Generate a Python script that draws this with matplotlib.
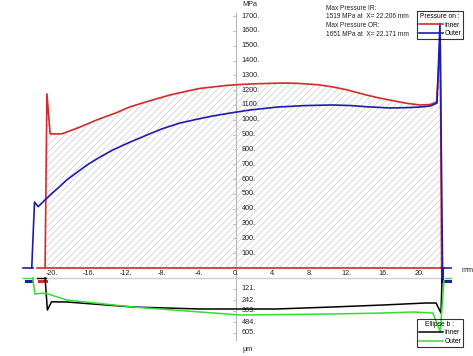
import matplotlib

matplotlib.use("Agg")

import matplotlib.pyplot as plt

# Contact pressure along the roller (mm -> MPa)
inner_mm = [-20.75, -20.75, -20.55, -20.2, -18.95, -17.0, -15.1, -13.0, -11.5, -9.0,
            -7.2, -5.0, -3.9, -1.0, 0.4, 2.0, 4.5, 5.5, 7.0, 9.0, 10.5, 12.0, 14.2,
            15.5, 17.8, 18.5, 20.0, 21.1, 21.8, 22.206, 22.35]
inner_mpa = [0, 0, 1175, 905, 905, 950, 1000, 1048, 1088, 1135,
             1167, 1198, 1212, 1232, 1238, 1243, 1247, 1248, 1245, 1236, 1222, 1203, 1167,
             1148, 1120, 1112, 1100, 1103, 1120, 1519, 0]
outer_mm = [-22.2, -21.9, -21.5, -20.2, -19.3, -18.4, -16.2, -14.8, -13.4, -11.5, -9.7,
            -8.0, -6.1, -4.3, -2.5, -0.5, 1.5, 4.5, 7.5, 10.5, 12.5, 14.2, 16.7, 18.5,
            20.0, 21.1, 21.85, 22.171, 22.45]
outer_mpa = [0, 445, 414, 493, 542, 594, 695, 748, 796, 850, 897,
             940, 978, 1003, 1026, 1047, 1066, 1086, 1096, 1100, 1096, 1088, 1080, 1082,
             1086, 1093, 1113, 1651, 0]

# Ellipse half width b (mm -> um), drawn downward
inner_b_mm = [-20.75, -20.5, -20.05, -18.4, -11.2, -3.9, 4.35, 10.5, 16.0, 20.65,
              21.75, 22.28, 22.39]
inner_b_um = [0, 352, 262, 264, 319, 341, 341, 319, 297, 275, 275, 385, 20]
outer_b_mm = [-22.1, -21.85, -20.75, -18.4, -11.2, -3.9, 0.4, 10.5, 16.0, 19.2,
              21.4, 22.2, 22.6]
outer_b_um = [0, 176, 165, 242, 319, 374, 407, 396, 385, 374, 385, 594, 30]

x_ticks = [-20, -16, -12, -8, -4, 0, 4, 8, 12, 16, 20]
p_ticks = [100, 200, 300, 400, 500, 600, 700, 800, 900, 1000, 1100, 1200,
           1300, 1400, 1500, 1600, 1700]
b_ticks = [121, 242, 363, 484, 605]

max_ir = (1519, 22.206)
max_or = (1651, 22.171)

RED = "#d42a2a"
BLUE = "#1c1cb0"
GREEN = "#33dd33"
GREY = "#b8b8b8"
TXT = "#222222"
FONT = "Liberation Sans"
FS = 5.2

plt.rcParams["hatch.linewidth"] = 0.5

fig = plt.figure(figsize=(4.73, 3.56), dpi=100)
ax = fig.add_axes([0, 0, 1, 1])
axl = fig.add_axes([0, 0, 1, 1])
for a in (ax, axl):
    a.set_axis_off()
    a.patch.set_alpha(0)
    a.set_xlim(-25.65, 25.76)
ax.set_ylim(-593.8, 1808.4)
axl.set_ylim(858, -3058)

# hatched pressure area under the inner curve
ax.fill_between(inner_mm, 0, inner_mpa, facecolor="none", edgecolor="#c8c8c8",
                hatch="/////", linewidth=0, zorder=1)

# axes
ax.plot([0, 0], [1720, -60], color=GREY, lw=0.8, zorder=2)
axl.plot([0, 0], [0, 680], color=GREY, lw=0.8, zorder=2)
axl.plot([inner_mm[0], 22.3], [0, 0], color="#d0d0d0", lw=1.0, zorder=2)
for t in p_ticks:
    ax.plot([-0.35, 0], [t, t], color=GREY, lw=0.6)
    ax.text(0.6, t, f"{t}.", fontsize=FS, family=FONT, color=TXT,
            va="center", ha="left")
for t in b_ticks:
    axl.plot([-0.35, 0], [t, t], color=GREY, lw=0.6)
    axl.text(0.6, t, f"{t}.", fontsize=FS, family=FONT, color=TXT,
             va="center", ha="left")
for t in x_ticks:
    ax.text(t, -34, f"{t}.", fontsize=FS, family=FONT, color=TXT,
            va="center", ha="center")
ax.text(0.7, 1775, "MPa", fontsize=FS, family=FONT, color=TXT, va="center")
axl.text(0.7, 790, "µm", fontsize=FS, family=FONT, color=TXT, va="center")
ax.text(24.5, -18, "mm", fontsize=FS, family=FONT, color=TXT, va="center")

# pressure curves
ax.plot([-21.6, 22.35], [0, 0], color=RED, lw=1.2, zorder=3)
l_in, = ax.plot(inner_mm, inner_mpa, color=RED, lw=1.2, zorder=4, label="Inner")
l_out, = ax.plot(outer_mm, outer_mpa, color=BLUE, lw=1.2, zorder=5, label="Outer")

# curve end markers
ax.plot([-23.1, -22.1], [0, 0], color=BLUE, lw=1.2)
ax.plot([22.3, 23.4], [0, 0], color=BLUE, lw=1.2)
axl.plot([-23.1, -22.1], [0, 0], color=GREEN, lw=1.0)
axl.plot([-22.8, -22.3], [28, 28], color=BLUE, lw=2.2)
axl.plot([-21.6, -20.7], [0, 0], color="black", lw=1.0)
axl.plot([-21.4, -20.7], [28, 28], color=RED, lw=2.2)
axl.plot([22.38, 22.38], [-110, 35], color=BLUE, lw=2.2)
axl.plot([22.35, 23.3], [33, 33], color=BLUE, lw=2.2)
axl.plot([22.75, 23.4], [0, 0], color=GREEN, lw=1.0)

# ellipse curves
b_in, = axl.plot(inner_b_mm, inner_b_um, color="black", lw=1.1, zorder=4,
                 label="Inner")
b_out, = axl.plot(outer_b_mm, outer_b_um, color=GREEN, lw=1.1, zorder=5,
                  label="Outer")

# max pressure notes
note = (f"Max Pressure IR:\n{max_ir[0]} MPa at  X= {max_ir[1]:.3f} mm\n"
        f"Max Pressure OR:\n{max_or[0]} MPa at  X= {max_or[1]:.3f} mm")
fig.text(326 / 473, 1 - 5 / 356, note, fontsize=4.7, family=FONT, color=TXT,
         va="top", ha="left", linespacing=1.3)

leg_kw = dict(borderpad=0.3, labelspacing=0.25, handlelength=3.6,
              handletextpad=0.2, borderaxespad=0, fancybox=False,
              edgecolor="black", facecolor="none",
              prop={"family": FONT, "size": 4.8})
leg1 = fig.legend(handles=[l_in, l_out], title="Pressure on :",
                  loc="upper right", bbox_to_anchor=(463 / 473, 1 - 11 / 356),
                  **leg_kw)
leg2 = fig.legend(handles=[b_in, b_out], title="Ellipse b :",
                  loc="lower right", bbox_to_anchor=(463 / 473, 1 - 347 / 356),
                  **leg_kw)
for leg in (leg1, leg2):
    leg.get_frame().set_linewidth(0.8)
    leg.get_title().set_family(FONT)
    leg.get_title().set_fontsize(4.8)

fig.savefig("out.png", dpi=100)
